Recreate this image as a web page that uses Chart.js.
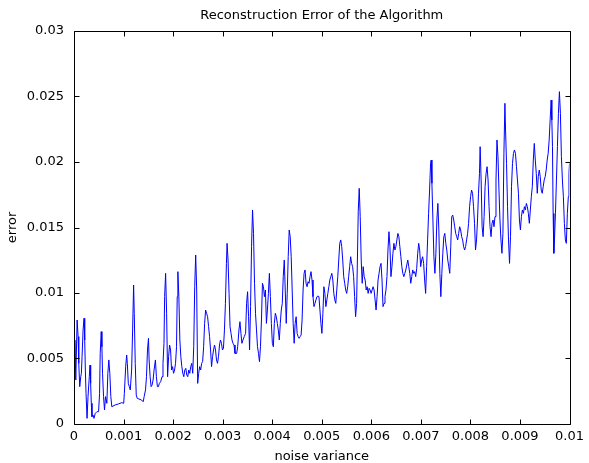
<!DOCTYPE html>
<html>
<head>
<meta charset="utf-8">
<script src="https://cdn.jsdelivr.net/npm/chart.js@4.4.0/dist/chart.umd.min.js"></script>
<style>
  html, body { margin: 0; padding: 0; background: #fff; }
  #grafico { display: block; }
</style>
</head>
<body>
<canvas id="grafico" width="589" height="463"></canvas>
<script>
// noise variance (x) and reconstruction error (y)
const noiseVariance = [
  0.000008, 0.000018, 0.000036, 0.000063, 0.000083, 0.000096, 0.000116, 0.000136, 0.000149, 0.000163,
  0.000183, 0.000203, 0.000216, 0.000229, 0.000243, 0.000263, 0.000283, 0.000309, 0.000323, 0.000336,
  0.000349, 0.000363, 0.000383, 0.000403, 0.000429, 0.000463, 0.000496, 0.000516, 0.000529, 0.000549,
  0.000563, 0.000576, 0.000596, 0.000616, 0.000636, 0.000663, 0.000683, 0.000703, 0.000723, 0.000743,
  0.000763, 0.000829, 0.000896, 0.000963, 0.001003, 0.001016, 0.001043, 0.001063, 0.001076, 0.001096,
  0.001116, 0.001136, 0.001163, 0.001183, 0.001203, 0.001216, 0.001236, 0.001256, 0.001276, 0.001309,
  0.001363, 0.001396, 0.001416, 0.001443, 0.001463, 0.001483, 0.001503, 0.001516, 0.001536, 0.001556,
  0.001576, 0.001596, 0.001616, 0.001643, 0.001663, 0.001683, 0.001703, 0.001723, 0.001749, 0.001776,
  0.001796, 0.001816, 0.001829, 0.001849, 0.001869, 0.001889, 0.001909, 0.001929, 0.001949, 0.001969,
  0.001989, 0.002009, 0.002029, 0.002049, 0.002069, 0.002083, 0.002096, 0.002116, 0.002136, 0.002156,
  0.002176, 0.002196, 0.002216, 0.002236, 0.002256, 0.002276, 0.002296, 0.002316, 0.002336, 0.002356,
  0.002376, 0.002396, 0.002416, 0.002436, 0.002456, 0.002476, 0.002496, 0.002516, 0.002536, 0.002556,
  0.002576, 0.002596, 0.002616, 0.002636, 0.002656, 0.002676, 0.002696, 0.002716, 0.002736, 0.002756,
  0.002776, 0.002796, 0.002816, 0.002836, 0.002856, 0.002876, 0.002896, 0.002916, 0.002936, 0.002956,
  0.002976, 0.002996, 0.003016, 0.003036, 0.003056, 0.003076, 0.003089, 0.003109, 0.003129, 0.003149,
  0.003169, 0.003189, 0.003209, 0.003229, 0.003249, 0.003283, 0.003303, 0.003329, 0.003349, 0.003369,
  0.003389, 0.003409, 0.003436, 0.003463, 0.003483, 0.003503, 0.003523, 0.003543, 0.003563, 0.003583,
  0.003603, 0.003623, 0.003643, 0.003663, 0.003683, 0.003703, 0.003723, 0.003743, 0.003763, 0.003783,
  0.003803, 0.003823, 0.003843, 0.003863, 0.003883, 0.003903, 0.003923, 0.003943, 0.003963, 0.003983,
  0.004003, 0.004023, 0.004043, 0.004063, 0.004083, 0.004103, 0.004123, 0.004143, 0.004163, 0.004183,
  0.004203, 0.004223, 0.004243, 0.004263, 0.004283, 0.004303, 0.004323, 0.004343, 0.004363, 0.004383,
  0.004403, 0.004423, 0.004443, 0.004463, 0.004483, 0.004503, 0.004523, 0.004543, 0.004563, 0.004583,
  0.004603, 0.004623, 0.004643, 0.004663, 0.004683, 0.004703, 0.004723, 0.004743, 0.004763, 0.004783,
  0.004803, 0.004823, 0.004843, 0.004863, 0.004883, 0.004903, 0.004923, 0.004943, 0.004963, 0.004983,
  0.005003, 0.005023, 0.005043, 0.005063, 0.005083, 0.005103, 0.005123, 0.005143, 0.005163, 0.005183,
  0.005203, 0.005223, 0.005243, 0.005263, 0.005283, 0.005303, 0.005323, 0.005343, 0.005363, 0.005383,
  0.005403, 0.005423, 0.005443, 0.005463, 0.005483, 0.005503, 0.005523, 0.005543, 0.005563, 0.005583,
  0.005603, 0.005623, 0.005643, 0.005663, 0.005683, 0.005703, 0.005723, 0.005736, 0.005756, 0.005776,
  0.005796, 0.005816, 0.005836, 0.005856, 0.005876, 0.005896, 0.005916, 0.005936, 0.005956, 0.005976,
  0.005996, 0.006016, 0.006036, 0.006056, 0.006076, 0.006096, 0.006116, 0.006136, 0.006156, 0.006176,
  0.006196, 0.006216, 0.006236, 0.006256, 0.006276, 0.006296, 0.006316, 0.006336, 0.006356, 0.006376,
  0.006396, 0.006416, 0.006436, 0.006456, 0.006476, 0.006496, 0.006516, 0.006536, 0.006556, 0.006576,
  0.006596, 0.006616, 0.006636, 0.006656, 0.006676, 0.006696, 0.006716, 0.006736, 0.006756, 0.006776,
  0.006796, 0.006816, 0.006836, 0.006856, 0.006876, 0.006896, 0.006916, 0.006936, 0.006956, 0.006976,
  0.006996, 0.007016, 0.007036, 0.007056, 0.007076, 0.007096, 0.007116, 0.007136, 0.007156, 0.007176,
  0.007196, 0.007209, 0.007223, 0.007243, 0.007263, 0.007283, 0.007303, 0.007323, 0.007343, 0.007363,
  0.007383, 0.007403, 0.007423, 0.007443, 0.007463, 0.007483, 0.007503, 0.007523, 0.007543, 0.007563,
  0.007583, 0.007603, 0.007623, 0.007643, 0.007663, 0.007683, 0.007703, 0.007723, 0.007743, 0.007763,
  0.007783, 0.007803, 0.007823, 0.007843, 0.007863, 0.007883, 0.007903, 0.007923, 0.007943, 0.007963,
  0.007983, 0.008003, 0.008023, 0.008043, 0.008063, 0.008083, 0.008103, 0.008123, 0.008143, 0.008163,
  0.008183, 0.008196, 0.008216, 0.008236, 0.008256, 0.008276, 0.008296, 0.008316, 0.008336, 0.008356,
  0.008376, 0.008396, 0.008416, 0.008436, 0.008456, 0.008476, 0.008496, 0.008516, 0.008536, 0.008556,
  0.008576, 0.008596, 0.008616, 0.008636, 0.008656, 0.008676, 0.008696, 0.008709, 0.008729, 0.008749,
  0.008769, 0.008789, 0.008809, 0.008829, 0.008849, 0.008869, 0.008889, 0.008909, 0.008929, 0.008949,
  0.008969, 0.008989, 0.009009, 0.009029, 0.009049, 0.009069, 0.009089, 0.009109, 0.009129, 0.009149,
  0.009169, 0.009189, 0.009209, 0.009229, 0.009249, 0.009269, 0.009289, 0.009309, 0.009329, 0.009349,
  0.009369, 0.009389, 0.009409, 0.009429, 0.009449, 0.009469, 0.009489, 0.009509, 0.009529, 0.009549,
  0.009569, 0.009589, 0.009609, 0.009629, 0.009643, 0.009656, 0.009669, 0.009683, 0.009696, 0.009716,
  0.009736, 0.009756, 0.009776, 0.009796, 0.009816, 0.009836, 0.009856, 0.009876, 0.009896, 0.009916,
  0.009936, 0.009956, 0.009976, 0.009989, 0.010000
];

const errorValues = [
  0.00460, 0.00640, 0.00336, 0.00794, 0.00667, 0.00463, 0.00285, 0.00361, 0.00387, 0.00514,
  0.00718, 0.00807, 0.00641, 0.00412, 0.00234, 0.00043, 0.00209, 0.00361, 0.00450, 0.00310,
  0.00158, 0.00056, 0.00069, 0.00043, 0.00081, 0.00094, 0.00094, 0.00234, 0.00539, 0.00705,
  0.00590, 0.00387, 0.00209, 0.00107, 0.00209, 0.00158, 0.00387, 0.00489, 0.00387, 0.00209,
  0.00132, 0.00145, 0.00153, 0.00163, 0.00158, 0.00234, 0.00438, 0.00527, 0.00463, 0.00310,
  0.00285, 0.00260, 0.00412, 0.00718, 0.01061, 0.00845, 0.00463, 0.00221, 0.00196, 0.00191,
  0.00183, 0.00170, 0.00209, 0.00260, 0.00361, 0.00565, 0.00654, 0.00489, 0.00361, 0.00285,
  0.00298, 0.00336, 0.00412, 0.00489, 0.00361, 0.00285, 0.00285, 0.00310, 0.00323, 0.00361,
  0.00463, 0.00616, 0.00972, 0.01150, 0.00845, 0.00361, 0.00514, 0.00603, 0.00565, 0.00412,
  0.00438, 0.00387, 0.00412, 0.00463, 0.00590, 0.00972, 0.01163, 0.00972, 0.00641, 0.00514,
  0.00438, 0.00387, 0.00361, 0.00412, 0.00425, 0.00374, 0.00361, 0.00412, 0.00387, 0.00438,
  0.00463, 0.00387, 0.00590, 0.01048, 0.01290, 0.01023, 0.00310, 0.00387, 0.00438, 0.00412,
  0.00463, 0.00476, 0.00590, 0.00768, 0.00870, 0.00845, 0.00819, 0.00743, 0.00667, 0.00565,
  0.00438, 0.00514, 0.00565, 0.00603, 0.00565, 0.00489, 0.00463, 0.00514, 0.00603, 0.00641,
  0.00616, 0.00565, 0.00578, 0.00718, 0.00921, 0.01226, 0.01379, 0.01252, 0.00997, 0.00743,
  0.00692, 0.00641, 0.00616, 0.00603, 0.00539, 0.00539, 0.00590, 0.00718, 0.00781, 0.00692,
  0.00616, 0.00641, 0.00667, 0.00692, 0.00921, 0.01010, 0.00819, 0.00565, 0.00896, 0.01354,
  0.01634, 0.01455, 0.01074, 0.00845, 0.00718, 0.00590, 0.00539, 0.00476, 0.00590, 0.00794,
  0.01074, 0.01048, 0.00972, 0.01023, 0.00768, 0.00870, 0.00997, 0.01150, 0.00972, 0.00768,
  0.00616, 0.00590, 0.00768, 0.00845, 0.00819, 0.00768, 0.00718, 0.00641, 0.00768, 0.00870,
  0.00921, 0.01125, 0.01252, 0.01023, 0.00768, 0.00997, 0.01277, 0.01481, 0.01430, 0.01277,
  0.01023, 0.00768, 0.00616, 0.00768, 0.00819, 0.00692, 0.00667, 0.00654, 0.00667, 0.00679,
  0.00794, 0.01023, 0.01150, 0.01176, 0.01074, 0.01048, 0.01086, 0.01074, 0.01125, 0.01163,
  0.01099, 0.00972, 0.00896, 0.00921, 0.00947, 0.00972, 0.00977, 0.00972, 0.00870, 0.00768,
  0.00692, 0.00845, 0.01048, 0.00997, 0.00896, 0.00947, 0.00997, 0.01048, 0.01099, 0.01125,
  0.01150, 0.01099, 0.00997, 0.00947, 0.00921, 0.01023, 0.01125, 0.01252, 0.01379, 0.01405,
  0.01354, 0.01252, 0.01125, 0.01074, 0.01023, 0.00997, 0.01048, 0.01125, 0.01201, 0.01277,
  0.01226, 0.01201, 0.01125, 0.00972, 0.00819, 0.00921, 0.01328, 0.01621, 0.01799, 0.01583,
  0.01252, 0.01074, 0.01201, 0.01125, 0.01099, 0.01023, 0.01048, 0.00997, 0.01036, 0.01023,
  0.00997, 0.01023, 0.01048, 0.01023, 0.00947, 0.00870, 0.00972, 0.01099, 0.01150, 0.01201,
  0.01226, 0.01099, 0.00896, 0.00921, 0.00972, 0.01023, 0.01125, 0.01328, 0.01468, 0.01354,
  0.01125, 0.01201, 0.01303, 0.01379, 0.01328, 0.01354, 0.01405, 0.01455, 0.01430, 0.01354,
  0.01277, 0.01201, 0.01150, 0.01125, 0.01150, 0.01176, 0.01214, 0.01252, 0.01201, 0.01150,
  0.01074, 0.01125, 0.01176, 0.01150, 0.01163, 0.01125, 0.01188, 0.01303, 0.01379, 0.01328,
  0.01201, 0.01252, 0.01277, 0.01226, 0.01099, 0.00997, 0.01201, 0.01405, 0.01608, 0.01786,
  0.01990, 0.02015, 0.01837, 0.01557, 0.01277, 0.01150, 0.01303, 0.01557, 0.01684, 0.01481,
  0.01150, 0.00972, 0.01150, 0.01303, 0.01430, 0.01455, 0.01379, 0.01328, 0.01252, 0.01201,
  0.01150, 0.01354, 0.01583, 0.01595, 0.01557, 0.01506, 0.01455, 0.01430, 0.01405, 0.01455,
  0.01506, 0.01481, 0.01430, 0.01405, 0.01354, 0.01328, 0.01354, 0.01405, 0.01455, 0.01532,
  0.01659, 0.01735, 0.01786, 0.01761, 0.01659, 0.01532, 0.01328, 0.01405, 0.01557, 0.01761,
  0.01913, 0.02117, 0.01863, 0.01506, 0.01430, 0.01583, 0.01812, 0.01913, 0.01964, 0.01863,
  0.01659, 0.01506, 0.01430, 0.01532, 0.01557, 0.01506, 0.01583, 0.01863, 0.02168, 0.02041,
  0.01786, 0.01557, 0.01405, 0.01303, 0.01455, 0.02066, 0.02448, 0.02244, 0.01990, 0.01659,
  0.01405, 0.01226, 0.01430, 0.01812, 0.01990, 0.02066, 0.02092, 0.02066, 0.01964, 0.01863,
  0.01761, 0.01557, 0.01481, 0.01583, 0.01634, 0.01608, 0.01659, 0.01634, 0.01684, 0.01659,
  0.01608, 0.01532, 0.01634, 0.01735, 0.01812, 0.02015, 0.02142, 0.02015, 0.01913, 0.01761,
  0.01888, 0.01939, 0.01888, 0.01786, 0.01761, 0.01812, 0.01863, 0.01888, 0.01939, 0.02015,
  0.02066, 0.02168, 0.02321, 0.02473, 0.02321, 0.02117, 0.01608, 0.01303, 0.01405, 0.01608,
  0.01863, 0.02117, 0.02371, 0.02537, 0.02371, 0.02041, 0.01863, 0.01735, 0.01532, 0.01405,
  0.01379, 0.01608, 0.01735, 0.01913, 0.01990
];

const xTicks = [0, 0.001, 0.002, 0.003, 0.004, 0.005, 0.006, 0.007, 0.008, 0.009, 0.01];
const xTickLabels = ['0', '0.001', '0.002', '0.003', '0.004', '0.005', '0.006', '0.007', '0.008', '0.009', '0.01'];
const yTicks = [0, 0.005, 0.01, 0.015, 0.02, 0.025, 0.03];
const yTickLabels = ['0', '0.005', '0.01', '0.015', '0.02', '0.025', '0.03'];

const fuente = '"DejaVu Sans", Verdana, sans-serif';

// matlab style box: frame, inward ticks on all four sides and the title
const cajaEjes = {
    id: 'cajaEjes',
    afterDraw(chart) {
        const ctx = chart.ctx;
        const area = chart.chartArea;
        const sx = chart.scales.x;
        const sy = chart.scales.y;
        const L = Math.round(area.left) + 0.5;
        const R = Math.round(area.right) + 0.5;
        const T = Math.round(area.top) + 0.5;
        const B = Math.round(area.bottom) + 0.5;

        ctx.save();
        ctx.strokeStyle = '#000';
        ctx.lineWidth = 1;
        ctx.beginPath();
        ctx.rect(L, T, R - L, B - T);
        xTicks.forEach(v => {
            const px = Math.round(sx.getPixelForValue(v)) + 0.5;
            ctx.moveTo(px, B); ctx.lineTo(px, B - 5);
            ctx.moveTo(px, T); ctx.lineTo(px, T + 5);
        });
        yTicks.forEach(v => {
            const py = Math.round(sy.getPixelForValue(v)) + 0.5;
            ctx.moveTo(L, py); ctx.lineTo(L + 5, py);
            ctx.moveTo(R, py); ctx.lineTo(R - 5, py);
        });
        ctx.stroke();

        ctx.fillStyle = '#000';
        ctx.font = '13px ' + fuente;
        ctx.textAlign = 'center';
        ctx.textBaseline = 'middle';
        ctx.fillText('Reconstruction Error of the Algorithm', (area.left + area.right) / 2, 16);
        ctx.restore();
    }
};

const puntos = noiseVariance.map((x, i) => ({ x: x, y: errorValues[i] }));

new Chart(document.getElementById('grafico'), {
    type: 'line',
    data: {
        datasets: [{
            data: puntos,
            borderColor: '#0000ff',
            borderWidth: 1,
            pointRadius: 0,
            tension: 0,
            fill: false
        }]
    },
    options: {
        responsive: false,
        animation: false,
        devicePixelRatio: 1,
        layout: { padding: { top: 31, right: 15, left: 0, bottom: 0 } },
        plugins: {
            legend: { display: false },
            title: { display: false },
            tooltip: { enabled: false }
        },
        scales: {
            x: {
                type: 'linear',
                min: 0,
                max: 0.01,
                afterBuildTicks: s => { s.ticks = xTicks.map(v => ({ value: v })); },
                afterFit: s => { s.height = 39; },
                grid: { display: false, drawTicks: false },
                border: { display: false },
                ticks: {
                    autoSkip: false,
                    maxRotation: 0,
                    padding: 5,
                    color: '#000',
                    font: { family: fuente, size: 13 },
                    callback: (v, i) => xTickLabels[i]
                },
                title: {
                    display: true,
                    text: 'noise variance',
                    color: '#000',
                    font: { family: fuente, size: 13, lineHeight: 1 },
                    padding: { top: 0, bottom: 0 }
                }
            },
            y: {
                type: 'linear',
                min: 0,
                max: 0.03,
                afterBuildTicks: s => { s.ticks = yTicks.map(v => ({ value: v })); },
                afterFit: s => { s.width = 74; },
                grid: { display: false, drawTicks: false },
                border: { display: false },
                ticks: {
                    autoSkip: false,
                    padding: 10,
                    color: '#000',
                    font: { family: fuente, size: 13 },
                    callback: (v, i) => yTickLabels[i]
                },
                title: {
                    display: true,
                    text: 'error',
                    color: '#000',
                    font: { family: fuente, size: 13, lineHeight: 1 },
                    padding: { top: 6, bottom: 0 }
                }
            }
        }
    },
    plugins: [cajaEjes]
});
</script>
</body>
</html>
